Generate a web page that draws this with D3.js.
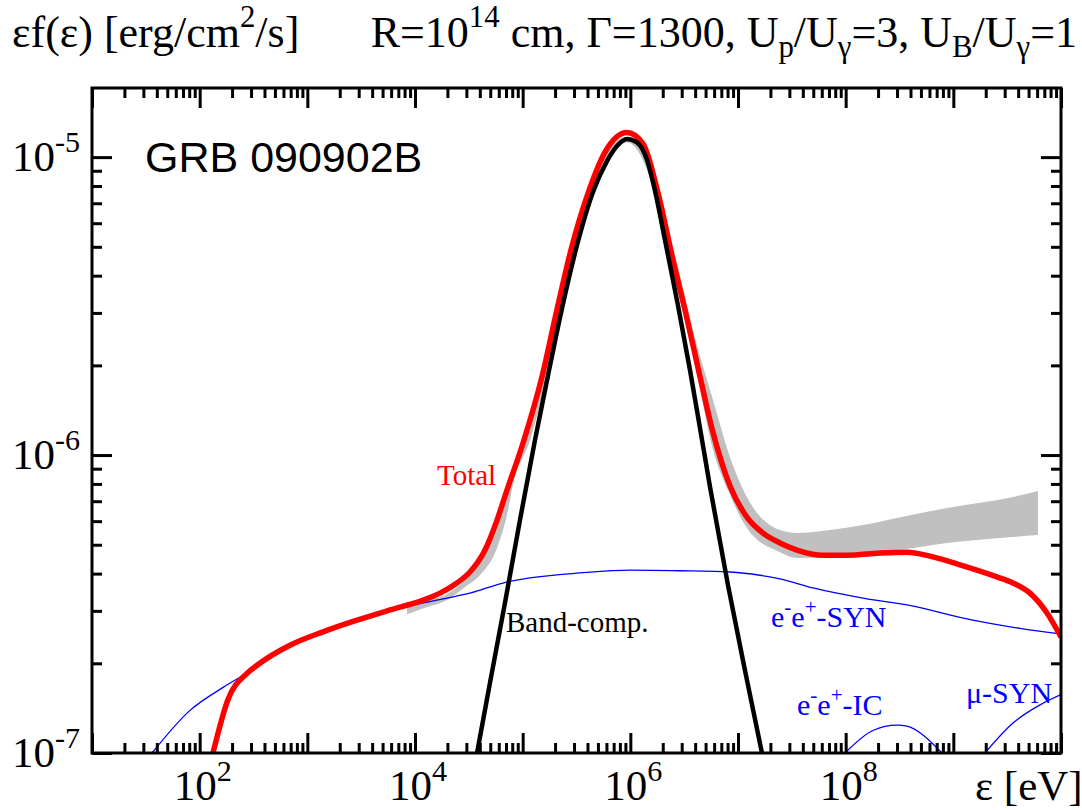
<!DOCTYPE html>
<html lang="en">
<head>
<meta charset="UTF-8">
<title>GRB 090902B spectrum</title>
<script src="https://d3js.org/d3.v7.min.js"></script>
<style>
  body { margin: 0; background: #fff; }
  svg { display: block; }
  text { font-family: "Liberation Serif", "Times New Roman", serif; }
  .tick line { stroke-width: 3; }
</style>
</head>
<body>
<svg width="1082" height="810"></svg>
<script>
// ---- data (energy in eV, flux in erg/cm2/s) ----
const bandE = [3.77e4, 4.97e4, 6.85e4, 9.44e4, 1.30e5, 1.72e5, 2.27e5, 3.20e5, 4.50e5, 6.07e5, 7.52e5, 9.31e5,
               1.15e6, 1.43e6, 1.69e6, 2.10e6, 2.77e6, 3.58e6, 4.44e6, 5.50e6, 8.07e6, 1.21e7, 1.67e7];
const bandF = [1.0e-7, 1.72e-7, 3.19e-7, 6.05e-7, 1.12e-6, 1.85e-6, 3.00e-6, 5.07e-6, 7.64e-6, 9.70e-6, 1.09e-5, 1.15e-5,
               1.12e-5, 9.77e-6, 7.74e-6, 5.26e-6, 3.18e-6, 1.93e-6, 1.23e-6, 7.81e-7, 3.66e-7, 1.76e-7, 1.0e-7];

const totalE = [1.33e2, 1.83e2, 2.75e2, 3.41e2, 6.90e2, 1.40e3, 2.89e3, 5.86e3, 1.19e4, 1.71e4, 2.45e4, 3.24e4,
                4.47e4, 5.78e4, 7.15e4, 1.01e5, 1.51e5, 2.08e5, 2.81e5, 4.05e5, 5.82e5, 9.31e5,
                1.31e6, 1.81e6, 2.49e6, 3.22e6, 4.44e6, 5.86e6, 8.43e6, 1.21e7, 1.71e7, 2.45e7, 3.53e7, 6.15e7,
                1.03e8, 2.08e8, 3.71e8, 6.07e8, 1.23e9, 2.54e9, 3.58e9, 5.15e9, 7.41e9, 1.0e10];
const totalF = [1.0e-7, 1.51e-7, 1.85e-7, 1.97e-7, 2.30e-7, 2.55e-7, 2.79e-7, 3.02e-7, 3.26e-7, 3.44e-7, 3.72e-7, 4.05e-7,
                4.80e-7, 6.05e-7, 7.63e-7, 1.10e-6, 1.83e-6, 3.07e-6, 4.88e-6, 7.57e-6, 1.04e-5, 1.21e-5,
                1.11e-5, 7.57e-6, 4.51e-6, 3.07e-6, 1.83e-6, 1.19e-6, 7.87e-7, 6.19e-7, 5.47e-7, 5.07e-7, 4.80e-7, 4.61e-7,
                4.61e-7, 4.69e-7, 4.72e-7, 4.58e-7, 4.25e-7, 3.90e-7, 3.72e-7, 3.44e-7, 2.95e-7, 2.45e-7];

const synE = [3.61e1, 8.13e1, 1.65e2, 3.41e2, 6.90e2, 1.40e3, 2.89e3, 5.86e3, 8.43e3, 1.98e4, 3.24e4, 6.56e4, 1.17e5,
              3.40e5, 9.93e5, 2.89e6, 8.43e6, 1.60e7, 2.45e7, 4.97e7, 1.45e8, 3.71e8, 1.52e9, 4.16e9, 1.0e10];
const synF = [1.0e-7, 1.39e-7, 1.66e-7, 1.94e-7, 2.30e-7, 2.55e-7, 2.79e-7, 3.02e-7, 3.11e-7, 3.31e-7, 3.44e-7, 3.72e-7, 3.87e-7,
              4.02e-7, 4.11e-7, 4.09e-7, 4.05e-7, 3.95e-7, 3.84e-7, 3.58e-7, 3.31e-7, 3.14e-7, 2.79e-7, 2.62e-7, 2.51e-7];

const icE = [9.86e7, 1.79e8, 3.00e8, 3.71e8, 5.22e8, 7.05e8, 7.85e8];
const icF = [1.0e-7, 1.19e-7, 1.24e-7, 1.23e-7, 1.15e-7, 1.04e-7, 1.0e-7];

const muE = [1.97e9, 3.58e9, 6.38e9, 1.0e10];
const muF = [1.0e-7, 1.26e-7, 1.45e-7, 1.57e-7];

// observed (gray) band: lower and upper edge
const obsE  = [8.43e3, 1.24e4, 1.98e4, 2.91e4, 4.02e4, 5.78e4, 7.15e4, 8.13e4, 1.17e5, 2.22e5, 5.22e5, 9.31e5,
               1.52e6, 2.34e6, 2.89e6, 3.82e6, 5.86e6, 8.43e6, 1.21e7, 2.45e7, 3.53e7, 7.14e7, 1.45e8, 3.00e8,
               8.73e8, 3.58e9, 6.11e9];
const obsLo = [2.92e-7, 3.07e-7, 3.26e-7, 3.61e-7, 3.96e-7, 4.88e-7, 6.29e-7, 7.93e-7, 1.12e-6, 2.79e-6, 8.63e-6, 1.12e-5,
               8.51e-6, 4.44e-6, 3.31e-6, 2.17e-6, 1.04e-6, 7.34e-7, 5.69e-7, 4.72e-7, 4.51e-7, 4.55e-7, 4.72e-7, 4.80e-7,
               5.07e-7, 5.31e-7, 5.39e-7];
const obsHi = [3.09e-7, 3.24e-7, 3.42e-7, 3.81e-7, 4.44e-7, 5.82e-7, 7.40e-7, 8.63e-7, 1.31e-6, 3.18e-6, 9.33e-6, 1.17e-5,
               9.33e-6, 5.47e-6, 4.02e-6, 2.63e-6, 1.53e-6, 9.84e-7, 7.23e-7, 5.60e-7, 5.47e-7, 5.60e-7, 5.82e-7, 6.15e-7,
               6.64e-7, 7.23e-7, 7.57e-7];

const xLabelExp = [2, 4, 6, 8];
const yLabelExp = [-7, -6, -5];

// ---- scales ----
const svg = d3.select("svg");
const L = 92, R = 1061, T = 88, B = 753;
const x = d3.scaleLog().domain([1e1, 1e10]).range([L, R]);
const y = d3.scaleLog().domain([1e-7, 1.706e-5]).range([B, T]);

svg.append("clipPath").attr("id", "plot")
  .append("rect").attr("x", L).attr("y", T).attr("width", R - L).attr("height", B - T);

const zip = (E, F) => E.map((e, i) => [e, F[i]]);
const line = d3.line().x(d => x(d[0])).y(d => y(d[1])).curve(d3.curveMonotoneX);
const plot = svg.append("g").attr("clip-path", "url(#plot)");

// gray observed band
plot.append("path")
  .datum(obsE.map((e, i) => ({e: e, lo: obsLo[i], hi: obsHi[i]})))
  .attr("fill", "#c0c0c0")
  .attr("d", d3.area().x(d => x(d.e)).y0(d => y(d.lo)).y1(d => y(d.hi)).curve(d3.curveMonotoneX));

// blue components
[[synE, synF], [icE, icF], [muE, muF]].forEach(([E, F]) => {
  plot.append("path").datum(zip(E, F))
    .attr("fill", "none").attr("stroke", "#0000ff").attr("stroke-width", 1.3)
    .attr("d", line);
});

plot.append("path").datum(zip(totalE, totalF))
  .attr("fill", "none").attr("stroke", "#ff0000").attr("stroke-width", 5.5)
  .attr("stroke-linejoin", "round").attr("d", line);

plot.append("path").datum(zip(bandE, bandF))
  .attr("fill", "none").attr("stroke", "#000").attr("stroke-width", 4.5)
  .attr("stroke-linejoin", "round").attr("d", line);

// ---- axes: inward ticks on all four sides ----
const xMajor = d3.range(1, 11).map(k => Math.pow(10, k));
const xMinor = [];
d3.range(1, 10).forEach(k => d3.range(2, 10).forEach(m => xMinor.push(m * Math.pow(10, k))));
const yMajor = [1e-7, 1e-6, 1e-5];
const yMinor = [];
d3.range(-7, -5).forEach(k => d3.range(2, 10).forEach(m => yMinor.push(m * Math.pow(10, k))));

function ticks(axisFn, scale, vals, len, tx, ty) {
  svg.append("g").attr("transform", `translate(${tx},${ty})`)
    .call(axisFn(scale).tickValues(vals).tickSize(-len).tickSizeOuter(0).tickFormat(""))
    .call(g => g.select(".domain").remove());
}
ticks(d3.axisBottom, x, xMajor, 20, 0, B);
ticks(d3.axisBottom, x, xMinor, 10, 0, B);
ticks(d3.axisTop, x, xMajor, 20, 0, T);
ticks(d3.axisTop, x, xMinor, 10, 0, T);
ticks(d3.axisLeft, y, yMajor, 20, L, 0);
ticks(d3.axisLeft, y, yMinor, 10, L, 0);
ticks(d3.axisRight, y, yMajor, 20, R, 0);
ticks(d3.axisRight, y, yMinor, 10, R, 0);

svg.append("rect").attr("x", L).attr("y", T).attr("width", R - L).attr("height", B - T)
  .attr("fill", "none").attr("stroke", "#000").attr("stroke-width", 3);

// ---- text with super/subscripts ----
function rich(g, parts, size) {
  let off = 0;
  parts.forEach(p => {
    const [s, mode] = typeof p === "string" ? [p, ""] : p;
    const target = mode === "sup" ? -size * 0.45 : mode === "sub" ? size * 0.22 : 0;
    g.append("tspan")
      .attr("dy", target - off)
      .attr("font-size", mode ? size * 0.7 : size)
      .text(s);
    off = target;
  });
  return g;
}

xLabelExp.forEach(k => {
  rich(svg.append("text").attr("x", x(Math.pow(10, k)) + 3).attr("y", 800).attr("text-anchor", "middle"),
    ["10", [String(k), "sup"]], 43);
});
yLabelExp.forEach(k => {
  rich(svg.append("text").attr("x", 80).attr("y", y(Math.pow(10, k)) + 14).attr("text-anchor", "end"),
    ["10", [String(k), "sup"]], 43);
});

rich(svg.append("text").attr("x", 975).attr("y", 800), ["\u03b5 [eV]"], 43);

rich(svg.append("text").attr("x", 12).attr("y", 47),
  ["\u03b5f(\u03b5) [erg/cm", ["2", "sup"], "/s]"], 44);
rich(svg.append("text").attr("x", 1077).attr("y", 47).attr("text-anchor", "end"),
  ["R=10", ["14", "sup"], " cm, \u0393=1300, U", ["p", "sub"], "/U", ["\u03b3", "sub"], "=3, U",
   ["B", "sub"], "/U", ["\u03b3", "sub"], "=1"], 44);

svg.append("text").attr("x", 145).attr("y", 172)
  .style("font-family", "'Liberation Sans', Arial, sans-serif").attr("font-size", 43)
  .text("GRB 090902B");

rich(svg.append("text").attr("x", 437).attr("y", 485).attr("fill", "#ff0000"), ["Total"], 29);
rich(svg.append("text").attr("x", 506).attr("y", 632).attr("fill", "#000"), ["Band-comp."], 29);
rich(svg.append("text").attr("x", 771).attr("y", 627).attr("fill", "#0000ff"),
  ["e", ["-", "sup"], "e", ["+", "sup"], "-SYN"], 30);
rich(svg.append("text").attr("x", 797).attr("y", 715).attr("fill", "#0000ff"),
  ["e", ["-", "sup"], "e", ["+", "sup"], "-IC"], 30);
rich(svg.append("text").attr("x", 966).attr("y", 703).attr("fill", "#0000ff"), ["\u03bc-SYN"], 30);
</script>
</body>
</html>
